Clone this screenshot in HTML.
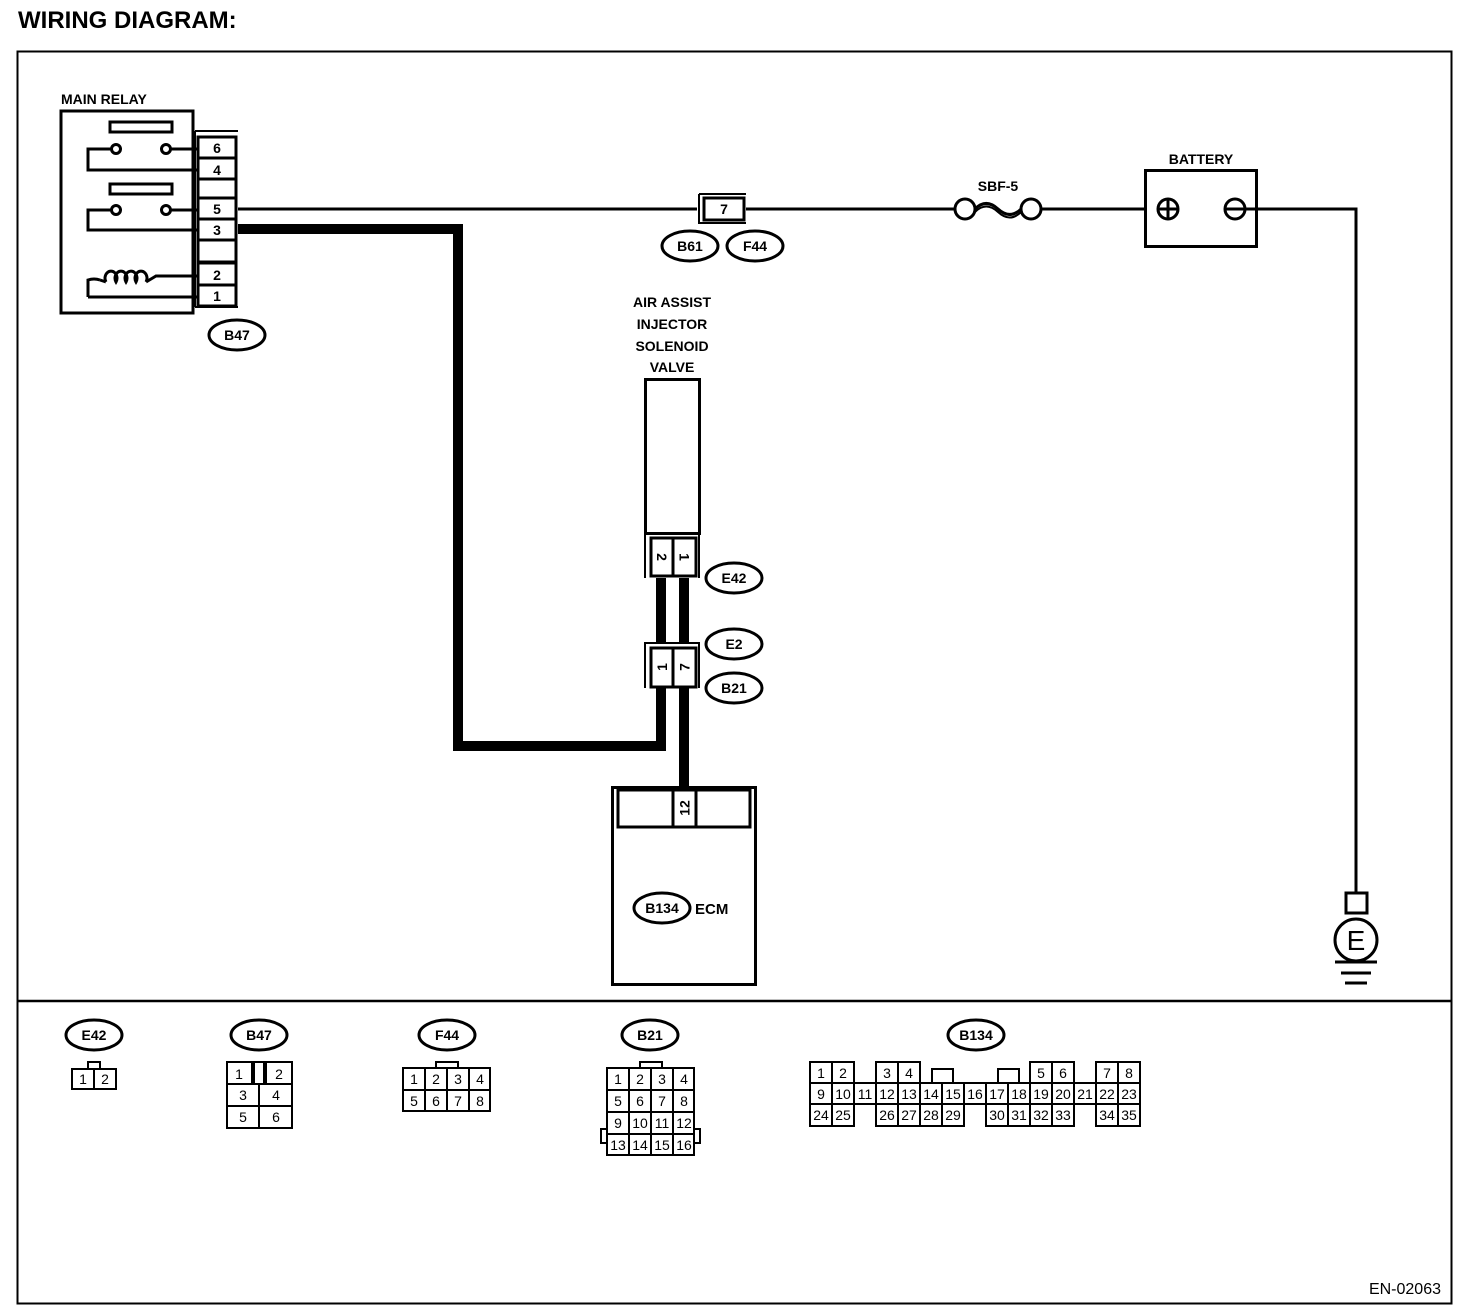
<!DOCTYPE html>
<html><head><meta charset="utf-8"><style>
html,body{margin:0;padding:0;background:#fff}
svg{display:block}
text{font-family:"Liberation Sans",Arial,sans-serif}
.b{font-weight:bold}
.c{font-size:14px;text-anchor:middle}
.r{dominant-baseline:central}
</style></head><body>
<svg width="1472" height="1314" viewBox="0 0 1472 1314" xmlns="http://www.w3.org/2000/svg">
<rect width="1472" height="1314" fill="#fff"/>
<text x="18" y="28" class="b" font-size="24">WIRING DIAGRAM:</text>
<rect x="17.5" y="51.5" width="1434" height="1252" fill="none" stroke="#000" stroke-width="2"/>
<line x1="17" y1="1001" x2="1451" y2="1001" stroke="#000" stroke-width="2.5"/>

<!-- MAIN RELAY -->
<text x="61" y="104" class="b" font-size="14">MAIN RELAY</text>
<rect x="61" y="111" width="132" height="202" fill="none" stroke="#000" stroke-width="3"/>
<rect x="110" y="122" width="62" height="10" fill="none" stroke="#000" stroke-width="3"/>
<rect x="110" y="184" width="62" height="10" fill="none" stroke="#000" stroke-width="3"/>
<g fill="none" stroke="#000" stroke-width="3">
<path d="M112 149 H88 V170 H199"/>
<path d="M112 210 H88 V230 H199"/>
<path d="M170 149 H199"/><path d="M170 210 H199"/>
<circle cx="116" cy="149" r="4.5" fill="#fff"/><circle cx="166" cy="149" r="4.5" fill="#fff"/>
<circle cx="116" cy="210" r="4.5" fill="#fff"/><circle cx="166" cy="210" r="4.5" fill="#fff"/>
<path d="M88 297 V280 Q94 278 100 280 M88 297 H199"/>
<path d="M106 282 a6 7 0 1 1 10 0 a6 7 0 1 1 10 0 a6 7 0 1 1 10 0 a6 7 0 1 1 10 0 M100 280 L106 282 M146 282 L156 276 H199"/>
</g>
<!-- relay connector -->
<path d="M195 131 H238 M195 131 V307 M195 307 H238" fill="none" stroke="#000" stroke-width="2"/>
<g fill="#fff" stroke="#000" stroke-width="3">
<rect x="198" y="137" width="38" height="21"/>
<rect x="198" y="158" width="38" height="21"/>
<rect x="198" y="179" width="38" height="19"/>
<rect x="198" y="198" width="38" height="21"/>
<rect x="198" y="219" width="38" height="21"/>
<rect x="198" y="240" width="38" height="22"/>
<rect x="198" y="263" width="38" height="22"/>
<rect x="198" y="285" width="38" height="21"/>
</g>
<g class="b c">
<text x="217" y="153">6</text><text x="217" y="175">4</text>
<text x="217" y="214">5</text><text x="217" y="235">3</text>
<text x="217" y="280">2</text><text x="217" y="301">1</text>
</g>
<ellipse cx="237" cy="335" rx="28" ry="15" fill="#fff" stroke="#000" stroke-width="3"/>
<text x="237" y="340" class="b c">B47</text>

<!-- wires -->
<g fill="none" stroke="#000">
<path d="M238 209 H697" stroke-width="3"/>
<path d="M746 209 H955" stroke-width="3"/>
<path d="M1040 209 H1145" stroke-width="3"/>
<path d="M1257 209 H1356 V893" stroke-width="3"/>
<path d="M238 229 H458 V746 H661 V688" stroke-width="10"/>
<path d="M661 578 V643" stroke-width="10"/>
<path d="M684 578 V643" stroke-width="10"/>
<path d="M684 688 V787" stroke-width="10"/>
</g>

<!-- F44 connector 7 -->
<path d="M699 194 H746 M699 194 V223 H746" fill="none" stroke="#000" stroke-width="2"/>
<rect x="704" y="198" width="40" height="22" fill="#fff" stroke="#000" stroke-width="3"/>
<text x="724" y="214" class="b c">7</text>
<ellipse cx="690" cy="246" rx="28" ry="15" fill="#fff" stroke="#000" stroke-width="3"/>
<text x="690" y="251" class="b c">B61</text>
<ellipse cx="755" cy="246" rx="28" ry="15" fill="#fff" stroke="#000" stroke-width="3"/>
<text x="755" y="251" class="b c">F44</text>

<!-- fuse -->
<text x="998" y="191" class="b c">SBF-5</text>
<ellipse cx="965" cy="209" rx="10" ry="10" fill="#fff" stroke="#000" stroke-width="3"/>
<ellipse cx="1031" cy="209" rx="10" ry="10" fill="#fff" stroke="#000" stroke-width="3"/>
<path d="M975 209 Q986 198 998 209 T1021 209" fill="none" stroke="#000" stroke-width="3"/>
<path d="M975 212 Q986 201 998 212 T1021 212" fill="none" stroke="#000" stroke-width="2"/>

<!-- battery -->
<text x="1201" y="164" class="b c">BATTERY</text>
<rect x="1145.5" y="170.5" width="111" height="76" fill="#fff" stroke="#000" stroke-width="3"/>
<circle cx="1168" cy="209" r="10" fill="none" stroke="#000" stroke-width="3"/>
<path d="M1158 209 H1178 M1168 199 V219" stroke="#000" stroke-width="3"/>
<circle cx="1235" cy="209" r="10" fill="none" stroke="#000" stroke-width="3"/>
<path d="M1225 209 H1257" stroke="#000" stroke-width="3"/>

<!-- ground -->
<rect x="1346" y="893" width="21" height="20" fill="#fff" stroke="#000" stroke-width="3"/>
<circle cx="1356" cy="940" r="21" fill="#fff" stroke="#000" stroke-width="3"/>
<text x="1356" y="950" font-size="28" text-anchor="middle">E</text>
<path d="M1335 962 H1377 M1341 973 H1371 M1345 983 H1367" stroke="#000" stroke-width="3"/>

<!-- AAISV -->
<text x="672" y="307" class="b c" font-size="15">AIR ASSIST</text>
<text x="672" y="329" class="b c" font-size="15">INJECTOR</text>
<text x="672" y="351" class="b c" font-size="15">SOLENOID</text>
<text x="672" y="372" class="b c" font-size="15">VALVE</text>
<rect x="645.5" y="379.5" width="54" height="154" fill="#fff" stroke="#000" stroke-width="3"/>
<path d="M645 534 V578 M699 534 V578" stroke="#000" stroke-width="2"/>
<rect x="651" y="538" width="22" height="38" fill="#fff" stroke="#000" stroke-width="3"/>
<rect x="673" y="538" width="23" height="38" fill="#fff" stroke="#000" stroke-width="3"/>
<text x="0" y="0" class="b c r" transform="translate(662,557) rotate(90)">2</text>
<text x="0" y="0" class="b c r" transform="translate(684.5,557) rotate(90)">1</text>
<ellipse cx="734" cy="578" rx="28" ry="15" fill="#fff" stroke="#000" stroke-width="3"/>
<text x="734" y="583" class="b c">E42</text>

<!-- B21/E2 -->
<path d="M645 688 V643 H699 V688" fill="none" stroke="#000" stroke-width="2"/>
<rect x="651" y="648" width="22" height="39" fill="#fff" stroke="#000" stroke-width="3"/>
<rect x="673" y="648" width="23" height="39" fill="#fff" stroke="#000" stroke-width="3"/>
<text x="0" y="0" class="b c r" transform="translate(662,667) rotate(-90)">1</text>
<text x="0" y="0" class="b c r" transform="translate(684.5,667) rotate(-90)">7</text>
<ellipse cx="734" cy="644" rx="28" ry="15" fill="#fff" stroke="#000" stroke-width="3"/>
<text x="734" y="649" class="b c">E2</text>
<ellipse cx="734" cy="688" rx="28" ry="15" fill="#fff" stroke="#000" stroke-width="3"/>
<text x="734" y="693" class="b c">B21</text>

<!-- ECM -->
<rect x="612.5" y="787.5" width="143" height="197" fill="#fff" stroke="#000" stroke-width="3"/>
<rect x="618" y="790" width="132" height="37" fill="#fff" stroke="#000" stroke-width="3"/>
<rect x="673" y="790" width="23" height="37" fill="#fff" stroke="#000" stroke-width="3"/>
<text x="0" y="0" class="b c r" transform="translate(684.5,808) rotate(-90)">12</text>
<ellipse cx="662" cy="908" rx="28" ry="15" fill="#fff" stroke="#000" stroke-width="3"/>
<text x="662" y="913" class="b c">B134</text>
<text x="695" y="914" class="b" font-size="15">ECM</text>

<!-- bottom connectors -->
<g fill="none" stroke="#000" stroke-width="2">
<!-- E42 -->
<rect x="88" y="1062" width="12" height="7"/>
<rect x="72" y="1069" width="22" height="20"/><rect x="94" y="1069" width="22" height="20"/>
<!-- B47 -->
<rect x="227" y="1062" width="25" height="22"/><rect x="254" y="1062" width="10" height="22"/><rect x="266" y="1062" width="26" height="22"/>
<rect x="227" y="1084" width="32" height="22"/><rect x="259" y="1084" width="33" height="22"/>
<rect x="227" y="1106" width="32" height="22"/><rect x="259" y="1106" width="33" height="22"/>
<!-- F44 -->
<rect x="436" y="1062" width="22" height="6"/>
<rect x="403" y="1068" width="22" height="22"/><rect x="425" y="1068" width="22" height="22"/><rect x="447" y="1068" width="22" height="22"/><rect x="469" y="1068" width="21" height="22"/>
<rect x="403" y="1090" width="22" height="21"/><rect x="425" y="1090" width="22" height="21"/><rect x="447" y="1090" width="22" height="21"/><rect x="469" y="1090" width="21" height="21"/>
<!-- B21 -->
<rect x="640" y="1062" width="22" height="6"/>
<rect x="601" y="1129" width="6" height="14"/><rect x="694" y="1129" width="6" height="14"/>
<rect x="607" y="1068" width="22" height="22"/><rect x="629" y="1068" width="22" height="22"/><rect x="651" y="1068" width="22" height="22"/><rect x="673" y="1068" width="21" height="22"/>
<rect x="607" y="1090" width="22" height="22"/><rect x="629" y="1090" width="22" height="22"/><rect x="651" y="1090" width="22" height="22"/><rect x="673" y="1090" width="21" height="22"/>
<rect x="607" y="1112" width="22" height="22"/><rect x="629" y="1112" width="22" height="22"/><rect x="651" y="1112" width="22" height="22"/><rect x="673" y="1112" width="21" height="22"/>
<rect x="607" y="1134" width="22" height="21"/><rect x="629" y="1134" width="22" height="21"/><rect x="651" y="1134" width="22" height="21"/><rect x="673" y="1134" width="21" height="21"/>
<!-- B134 -->
<path d="M932 1083 V1069 H953 V1083 M998 1083 V1069 H1019 V1083"/>
<rect x="810" y="1062" width="22" height="21"/><rect x="832" y="1062" width="22" height="21"/>
<rect x="876" y="1062" width="22" height="21"/><rect x="898" y="1062" width="22" height="21"/>
<rect x="1030" y="1062" width="22" height="21"/><rect x="1052" y="1062" width="22" height="21"/>
<rect x="1096" y="1062" width="22" height="21"/><rect x="1118" y="1062" width="22" height="21"/>
<rect x="810" y="1083" width="330" height="21"/>
<path d="M832 1083 V1104 M854 1083 V1104 M876 1083 V1104 M898 1083 V1104 M920 1083 V1104 M942 1083 V1104 M964 1083 V1104 M986 1083 V1104 M1008 1083 V1104 M1030 1083 V1104 M1052 1083 V1104 M1074 1083 V1104 M1096 1083 V1104 M1118 1083 V1104"/>
<rect x="810" y="1104" width="22" height="22"/><rect x="832" y="1104" width="22" height="22"/>
<rect x="876" y="1104" width="22" height="22"/><rect x="898" y="1104" width="22" height="22"/><rect x="920" y="1104" width="22" height="22"/><rect x="942" y="1104" width="22" height="22"/>
<rect x="986" y="1104" width="22" height="22"/><rect x="1008" y="1104" width="22" height="22"/><rect x="1030" y="1104" width="22" height="22"/><rect x="1052" y="1104" width="22" height="22"/>
<rect x="1096" y="1104" width="22" height="22"/><rect x="1118" y="1104" width="22" height="22"/>
</g>
<g fill="#fff" stroke="#000" stroke-width="3">
<ellipse cx="94" cy="1035" rx="28" ry="15"/><ellipse cx="259" cy="1035" rx="28" ry="15"/>
<ellipse cx="447" cy="1035" rx="28" ry="15"/><ellipse cx="650" cy="1035" rx="28" ry="15"/>
<ellipse cx="976" cy="1035" rx="28" ry="15"/>
</g>
<g class="b c">
<text x="94" y="1040">E42</text><text x="259" y="1040">B47</text><text x="447" y="1040">F44</text>
<text x="650" y="1040">B21</text><text x="976" y="1040">B134</text>
</g>
<g class="c" font-size="14">
<text x="83" y="1084">1</text><text x="105" y="1084">2</text>
<text x="239" y="1079">1</text><text x="279" y="1079">2</text>
<text x="243" y="1100">3</text><text x="276" y="1100">4</text>
<text x="243" y="1122">5</text><text x="276" y="1122">6</text>
<text x="414" y="1084">1</text><text x="436" y="1084">2</text><text x="458" y="1084">3</text><text x="480" y="1084">4</text>
<text x="414" y="1106">5</text><text x="436" y="1106">6</text><text x="458" y="1106">7</text><text x="480" y="1106">8</text>
<text x="618" y="1084">1</text><text x="640" y="1084">2</text><text x="662" y="1084">3</text><text x="684" y="1084">4</text>
<text x="618" y="1106">5</text><text x="640" y="1106">6</text><text x="662" y="1106">7</text><text x="684" y="1106">8</text>
</g>
<g class="c" font-size="12.5">
<text x="618" y="1128">9</text><text x="640" y="1128">10</text><text x="662" y="1128">11</text><text x="684" y="1128">12</text>
<text x="618" y="1150">13</text><text x="640" y="1150">14</text><text x="662" y="1150">15</text><text x="684" y="1150">16</text>
<text x="821" y="1078">1</text><text x="843" y="1078">2</text><text x="887" y="1078">3</text><text x="909" y="1078">4</text>
<text x="1041" y="1078">5</text><text x="1063" y="1078">6</text><text x="1107" y="1078">7</text><text x="1129" y="1078">8</text>
<text x="821" y="1099">9</text><text x="843" y="1099">10</text><text x="865" y="1099">11</text><text x="887" y="1099">12</text><text x="909" y="1099">13</text><text x="931" y="1099">14</text><text x="953" y="1099">15</text><text x="975" y="1099">16</text><text x="997" y="1099">17</text><text x="1019" y="1099">18</text><text x="1041" y="1099">19</text><text x="1063" y="1099">20</text><text x="1085" y="1099">21</text><text x="1107" y="1099">22</text><text x="1129" y="1099">23</text>
<text x="821" y="1120">24</text><text x="843" y="1120">25</text><text x="887" y="1120">26</text><text x="909" y="1120">27</text><text x="931" y="1120">28</text><text x="953" y="1120">29</text><text x="997" y="1120">30</text><text x="1019" y="1120">31</text><text x="1041" y="1120">32</text><text x="1063" y="1120">33</text><text x="1107" y="1120">34</text><text x="1129" y="1120">35</text>
</g>
<text x="1441" y="1294" font-size="16" text-anchor="end">EN-02063</text>
</svg>
</body></html>
